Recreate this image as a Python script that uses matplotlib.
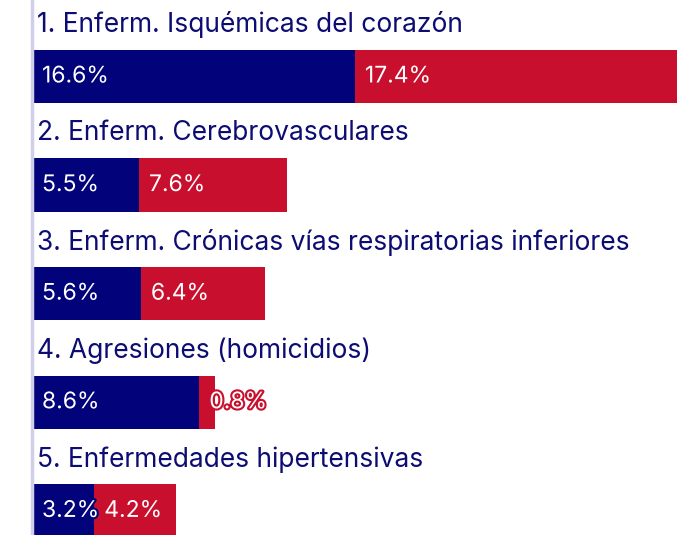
import matplotlib

matplotlib.use("Agg")
import matplotlib.pyplot as plt
import matplotlib.patheffects as pe
import numpy as np

# Causas de muerte - dos series apiladas
categories = [
    "1. Enferm. Isquémicas del corazón",
    "2. Enferm. Cerebrovasculares",
    "3. Enferm. Crónicas vías respiratorias inferiores",
    "4. Agresiones (homicidios)",
    "5. Enfermedades hipertensivas",
]
serie_a = np.array([16.6, 5.5, 5.6, 8.6, 3.2])
serie_b = np.array([17.4, 7.6, 6.4, 0.8, 4.2])

navy = "#02027a"
red = "#c8102e"
text_color = "#0c0c72"

plt.rcParams["font.family"] = ["Inter", "DejaVu Sans"]

fig = plt.figure(figsize=(6.77, 5.35), dpi=100)
ax = fig.add_axes([32 / 677, 0, 645 / 677, 1])

y = np.arange(len(categories))
h = 0.49
ax.barh(y, serie_a, height=h, color=navy)
ax.barh(y, serie_b, left=serie_a, height=h, color=red)

for i in range(len(categories)):
    ax.annotate(categories[i], (0, y[i] - 0.475), xytext=(3.5, 0),
                textcoords="offset points", va="center", ha="left",
                fontsize=19, color=text_color)
    ax.annotate(f"{serie_a[i]}%", (0, y[i]), xytext=(7.2, 0),
                textcoords="offset points", va="center", ha="left",
                fontsize=16.5, color="white",
                path_effects=[pe.withStroke(linewidth=3, foreground=navy)])
    ax.annotate(f"{serie_b[i]}%", (serie_a[i], y[i]), xytext=(7.2, 0),
                textcoords="offset points", va="center", ha="left",
                fontsize=16.5, color="white",
                path_effects=[pe.withStroke(linewidth=3, foreground=red)])

ax.set_xlim(0, 33.16)
ax.set_ylim(4.222, -0.704)
ax.set_xticks([])
ax.set_yticks([])
for s in ["top", "right", "bottom"]:
    ax.spines[s].set_visible(False)
ax.spines["left"].set_color("#cfcfe8")
ax.spines["left"].set_linewidth(2.5)

fig.savefig("out.png", dpi=100)
